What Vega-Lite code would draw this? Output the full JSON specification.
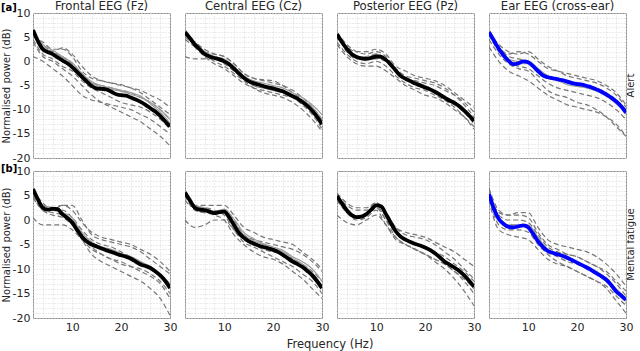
{
"$schema":"https://vega.github.io/schema/vega-lite/v6.json",
"padding":{"left":1,"top":1,"right":1,"bottom":1},
"spacing":1,
"config":{
"font":"DejaVu Sans",
"view":{"stroke":"#8a8a8a","strokeWidth":1},
"axis":{"grid":true,"gridColor":"#d6d6d6","gridDash":[1,2],"gridWidth":1,"domain":false,"ticks":false,"labelFontSize":11,"labelColor":"#262626","labelPadding":2,"labelFlush":false,"labelOverlap":false,"titleFontWeight":"normal","titleColor":"#262626","titleFontSize":10,"titlePadding":1},
"header":{"labelColor":"#262626","titleColor":"#262626","titleFontWeight":"normal"},
"title":{"fontSize":10,"fontWeight":"bold","color":"#000000","anchor":"start","frame":"bounds"}
},
"data":{"values":[
{"r":0,"c":0,"s":0,"f":2,"p":6.5},{"r":0,"c":0,"s":0,"f":3,"p":4.2},{"r":0,"c":0,"s":0,"f":4,"p":2.5},{"r":0,"c":0,"s":0,"f":5,"p":1.9},{"r":0,"c":0,"s":0,"f":6,"p":1.5},{"r":0,"c":0,"s":0,"f":7,"p":0.8},{"r":0,"c":0,"s":0,"f":8,"p":0.2},{"r":0,"c":0,"s":0,"f":9,"p":-0.4},{"r":0,"c":0,"s":0,"f":10,"p":-1.2},{"r":0,"c":0,"s":0,"f":11,"p":-2.2},{"r":0,"c":0,"s":0,"f":12,"p":-3.2},{"r":0,"c":0,"s":0,"f":13,"p":-4.2},{"r":0,"c":0,"s":0,"f":14,"p":-5.1},{"r":0,"c":0,"s":0,"f":15,"p":-5.6},{"r":0,"c":0,"s":0,"f":16,"p":-5.7},{"r":0,"c":0,"s":0,"f":17,"p":-5.8},{"r":0,"c":0,"s":0,"f":18,"p":-6.3},{"r":0,"c":0,"s":0,"f":19,"p":-6.8},{"r":0,"c":0,"s":0,"f":20,"p":-7.0},{"r":0,"c":0,"s":0,"f":21,"p":-7.1},{"r":0,"c":0,"s":0,"f":22,"p":-7.5},{"r":0,"c":0,"s":0,"f":23,"p":-7.9},{"r":0,"c":0,"s":0,"f":24,"p":-8.4},{"r":0,"c":0,"s":0,"f":25,"p":-9.0},{"r":0,"c":0,"s":0,"f":26,"p":-9.7},{"r":0,"c":0,"s":0,"f":27,"p":-10.4},{"r":0,"c":0,"s":0,"f":28,"p":-11.3},{"r":0,"c":0,"s":0,"f":29,"p":-12.4},{"r":0,"c":0,"s":0,"f":30,"p":-13.5},
{"r":0,"c":0,"s":1,"f":2,"p":5},{"r":0,"c":0,"s":1,"f":4,"p":4},{"r":0,"c":0,"s":1,"f":6,"p":2.5},{"r":0,"c":0,"s":1,"f":8,"p":2.5},{"r":0,"c":0,"s":1,"f":10,"p":1},{"r":0,"c":0,"s":1,"f":12,"p":-2},{"r":0,"c":0,"s":1,"f":14,"p":-3.5},{"r":0,"c":0,"s":1,"f":16,"p":-4},{"r":0,"c":0,"s":1,"f":18,"p":-4.5},{"r":0,"c":0,"s":1,"f":20,"p":-4.8},{"r":0,"c":0,"s":1,"f":22,"p":-5.5},{"r":0,"c":0,"s":1,"f":24,"p":-6},{"r":0,"c":0,"s":1,"f":26,"p":-7},{"r":0,"c":0,"s":1,"f":28,"p":-8},{"r":0,"c":0,"s":1,"f":30,"p":-9.5},
{"r":0,"c":0,"s":2,"f":2,"p":1},{"r":0,"c":0,"s":2,"f":4,"p":0},{"r":0,"c":0,"s":2,"f":6,"p":-1.5},{"r":0,"c":0,"s":2,"f":8,"p":-3},{"r":0,"c":0,"s":2,"f":10,"p":-5},{"r":0,"c":0,"s":2,"f":12,"p":-7},{"r":0,"c":0,"s":2,"f":14,"p":-8},{"r":0,"c":0,"s":2,"f":16,"p":-8.5},{"r":0,"c":0,"s":2,"f":18,"p":-9},{"r":0,"c":0,"s":2,"f":20,"p":-9.5},{"r":0,"c":0,"s":2,"f":22,"p":-10},{"r":0,"c":0,"s":2,"f":24,"p":-11},{"r":0,"c":0,"s":2,"f":26,"p":-12},{"r":0,"c":0,"s":2,"f":28,"p":-13.5},{"r":0,"c":0,"s":2,"f":30,"p":-15},
{"r":0,"c":0,"s":3,"f":2,"p":4},{"r":0,"c":0,"s":3,"f":4,"p":1},{"r":0,"c":0,"s":3,"f":6,"p":0},{"r":0,"c":0,"s":3,"f":8,"p":-1.5},{"r":0,"c":0,"s":3,"f":10,"p":-3},{"r":0,"c":0,"s":3,"f":12,"p":-5},{"r":0,"c":0,"s":3,"f":14,"p":-7},{"r":0,"c":0,"s":3,"f":16,"p":-8.5},{"r":0,"c":0,"s":3,"f":18,"p":-9.5},{"r":0,"c":0,"s":3,"f":20,"p":-10.5},{"r":0,"c":0,"s":3,"f":22,"p":-11.5},{"r":0,"c":0,"s":3,"f":24,"p":-12.5},{"r":0,"c":0,"s":3,"f":26,"p":-14},{"r":0,"c":0,"s":3,"f":28,"p":-15.5},{"r":0,"c":0,"s":3,"f":30,"p":-17.5},
{"r":0,"c":0,"s":4,"f":2,"p":6},{"r":0,"c":0,"s":4,"f":4,"p":3},{"r":0,"c":0,"s":4,"f":6,"p":2},{"r":0,"c":0,"s":4,"f":8,"p":1},{"r":0,"c":0,"s":4,"f":10,"p":-0.5},{"r":0,"c":0,"s":4,"f":12,"p":-2.5},{"r":0,"c":0,"s":4,"f":14,"p":-4.5},{"r":0,"c":0,"s":4,"f":16,"p":-5},{"r":0,"c":0,"s":4,"f":18,"p":-5.5},{"r":0,"c":0,"s":4,"f":20,"p":-6},{"r":0,"c":0,"s":4,"f":22,"p":-6.5},{"r":0,"c":0,"s":4,"f":24,"p":-7.5},{"r":0,"c":0,"s":4,"f":26,"p":-8.5},{"r":0,"c":0,"s":4,"f":28,"p":-10},{"r":0,"c":0,"s":4,"f":30,"p":-12},
{"r":0,"c":0,"s":5,"f":2,"p":5.5},{"r":0,"c":0,"s":5,"f":4,"p":3.5},{"r":0,"c":0,"s":5,"f":6,"p":2},{"r":0,"c":0,"s":5,"f":8,"p":2.8},{"r":0,"c":0,"s":5,"f":10,"p":1.5},{"r":0,"c":0,"s":5,"f":12,"p":-1},{"r":0,"c":0,"s":5,"f":14,"p":-3},{"r":0,"c":0,"s":5,"f":16,"p":-4},{"r":0,"c":0,"s":5,"f":18,"p":-4.5},{"r":0,"c":0,"s":5,"f":20,"p":-5},{"r":0,"c":0,"s":5,"f":22,"p":-5.5},{"r":0,"c":0,"s":5,"f":24,"p":-6.5},{"r":0,"c":0,"s":5,"f":26,"p":-8},{"r":0,"c":0,"s":5,"f":28,"p":-9.5},{"r":0,"c":0,"s":5,"f":30,"p":-11},
{"r":0,"c":0,"s":6,"f":2,"p":4.5},{"r":0,"c":0,"s":6,"f":4,"p":1.5},{"r":0,"c":0,"s":6,"f":6,"p":0.5},{"r":0,"c":0,"s":6,"f":8,"p":-1},{"r":0,"c":0,"s":6,"f":10,"p":-2},{"r":0,"c":0,"s":6,"f":12,"p":-4},{"r":0,"c":0,"s":6,"f":14,"p":-5.5},{"r":0,"c":0,"s":6,"f":16,"p":-6.5},{"r":0,"c":0,"s":6,"f":18,"p":-7.5},{"r":0,"c":0,"s":6,"f":20,"p":-8.5},{"r":0,"c":0,"s":6,"f":22,"p":-9},{"r":0,"c":0,"s":6,"f":24,"p":-9.5},{"r":0,"c":0,"s":6,"f":26,"p":-10.5},{"r":0,"c":0,"s":6,"f":28,"p":-12},{"r":0,"c":0,"s":6,"f":30,"p":-14},
{"r":0,"c":0,"s":7,"f":2,"p":6.5},{"r":0,"c":0,"s":7,"f":4,"p":3},{"r":0,"c":0,"s":7,"f":6,"p":1.8},{"r":0,"c":0,"s":7,"f":8,"p":0.8},{"r":0,"c":0,"s":7,"f":10,"p":-0.8},{"r":0,"c":0,"s":7,"f":12,"p":-2.8},{"r":0,"c":0,"s":7,"f":14,"p":-4.5},{"r":0,"c":0,"s":7,"f":16,"p":-5.3},{"r":0,"c":0,"s":7,"f":18,"p":-5.8},{"r":0,"c":0,"s":7,"f":20,"p":-6.2},{"r":0,"c":0,"s":7,"f":22,"p":-6.8},{"r":0,"c":0,"s":7,"f":24,"p":-7.5},{"r":0,"c":0,"s":7,"f":26,"p":-8.5},{"r":0,"c":0,"s":7,"f":28,"p":-10},{"r":0,"c":0,"s":7,"f":30,"p":-12},
{"r":0,"c":0,"s":8,"f":2,"p":6},{"r":0,"c":0,"s":8,"f":4,"p":3.5},{"r":0,"c":0,"s":8,"f":6,"p":2.3},{"r":0,"c":0,"s":8,"f":8,"p":1},{"r":0,"c":0,"s":8,"f":10,"p":-0.3},{"r":0,"c":0,"s":8,"f":12,"p":-2.5},{"r":0,"c":0,"s":8,"f":14,"p":-4.2},{"r":0,"c":0,"s":8,"f":16,"p":-5},{"r":0,"c":0,"s":8,"f":18,"p":-5.5},{"r":0,"c":0,"s":8,"f":20,"p":-6},{"r":0,"c":0,"s":8,"f":22,"p":-6.5},{"r":0,"c":0,"s":8,"f":24,"p":-7.2},{"r":0,"c":0,"s":8,"f":26,"p":-8.8},{"r":0,"c":0,"s":8,"f":28,"p":-10.5},{"r":0,"c":0,"s":8,"f":30,"p":-12.8},
{"r":0,"c":1,"s":0,"f":2,"p":6.0},{"r":0,"c":1,"s":0,"f":3,"p":4.8},{"r":0,"c":1,"s":0,"f":4,"p":3.5},{"r":0,"c":1,"s":0,"f":5,"p":2.5},{"r":0,"c":1,"s":0,"f":6,"p":1.5},{"r":0,"c":1,"s":0,"f":7,"p":1.0},{"r":0,"c":1,"s":0,"f":8,"p":0.7},{"r":0,"c":1,"s":0,"f":9,"p":0.4},{"r":0,"c":1,"s":0,"f":10,"p":0.0},{"r":0,"c":1,"s":0,"f":11,"p":-0.6},{"r":0,"c":1,"s":0,"f":12,"p":-1.5},{"r":0,"c":1,"s":0,"f":13,"p":-2.5},{"r":0,"c":1,"s":0,"f":14,"p":-3.4},{"r":0,"c":1,"s":0,"f":15,"p":-4.1},{"r":0,"c":1,"s":0,"f":16,"p":-4.5},{"r":0,"c":1,"s":0,"f":17,"p":-4.8},{"r":0,"c":1,"s":0,"f":18,"p":-5.1},{"r":0,"c":1,"s":0,"f":19,"p":-5.4},{"r":0,"c":1,"s":0,"f":20,"p":-5.6},{"r":0,"c":1,"s":0,"f":21,"p":-5.9},{"r":0,"c":1,"s":0,"f":22,"p":-6.2},{"r":0,"c":1,"s":0,"f":23,"p":-6.7},{"r":0,"c":1,"s":0,"f":24,"p":-7.2},{"r":0,"c":1,"s":0,"f":25,"p":-7.7},{"r":0,"c":1,"s":0,"f":26,"p":-8.4},{"r":0,"c":1,"s":0,"f":27,"p":-9.2},{"r":0,"c":1,"s":0,"f":28,"p":-10.2},{"r":0,"c":1,"s":0,"f":29,"p":-11.5},{"r":0,"c":1,"s":0,"f":30,"p":-13.0},
{"r":0,"c":1,"s":1,"f":2,"p":5},{"r":0,"c":1,"s":1,"f":4,"p":3.5},{"r":0,"c":1,"s":1,"f":6,"p":2},{"r":0,"c":1,"s":1,"f":8,"p":1.5},{"r":0,"c":1,"s":1,"f":10,"p":1},{"r":0,"c":1,"s":1,"f":12,"p":-0.5},{"r":0,"c":1,"s":1,"f":14,"p":-2.5},{"r":0,"c":1,"s":1,"f":16,"p":-3.5},{"r":0,"c":1,"s":1,"f":18,"p":-4},{"r":0,"c":1,"s":1,"f":20,"p":-4.5},{"r":0,"c":1,"s":1,"f":22,"p":-5},{"r":0,"c":1,"s":1,"f":24,"p":-6},{"r":0,"c":1,"s":1,"f":26,"p":-7.5},{"r":0,"c":1,"s":1,"f":28,"p":-9.5},{"r":0,"c":1,"s":1,"f":30,"p":-12},
{"r":0,"c":1,"s":2,"f":2,"p":1},{"r":0,"c":1,"s":2,"f":4,"p":0.5},{"r":0,"c":1,"s":2,"f":6,"p":0.5},{"r":0,"c":1,"s":2,"f":8,"p":0.5},{"r":0,"c":1,"s":2,"f":10,"p":-0.5},{"r":0,"c":1,"s":2,"f":12,"p":-2},{"r":0,"c":1,"s":2,"f":14,"p":-3.5},{"r":0,"c":1,"s":2,"f":16,"p":-5},{"r":0,"c":1,"s":2,"f":18,"p":-5.5},{"r":0,"c":1,"s":2,"f":20,"p":-6},{"r":0,"c":1,"s":2,"f":22,"p":-6.5},{"r":0,"c":1,"s":2,"f":24,"p":-7.5},{"r":0,"c":1,"s":2,"f":26,"p":-8.5},{"r":0,"c":1,"s":2,"f":28,"p":-10},{"r":0,"c":1,"s":2,"f":30,"p":-12},
{"r":0,"c":1,"s":3,"f":2,"p":6.5},{"r":0,"c":1,"s":3,"f":4,"p":4},{"r":0,"c":1,"s":3,"f":6,"p":2},{"r":0,"c":1,"s":3,"f":8,"p":1},{"r":0,"c":1,"s":3,"f":10,"p":0},{"r":0,"c":1,"s":3,"f":12,"p":-1.5},{"r":0,"c":1,"s":3,"f":14,"p":-3.5},{"r":0,"c":1,"s":3,"f":16,"p":-5},{"r":0,"c":1,"s":3,"f":18,"p":-5.5},{"r":0,"c":1,"s":3,"f":20,"p":-6},{"r":0,"c":1,"s":3,"f":22,"p":-6.5},{"r":0,"c":1,"s":3,"f":24,"p":-7.5},{"r":0,"c":1,"s":3,"f":26,"p":-9},{"r":0,"c":1,"s":3,"f":28,"p":-11},{"r":0,"c":1,"s":3,"f":30,"p":-14},
{"r":0,"c":1,"s":4,"f":2,"p":5.5},{"r":0,"c":1,"s":4,"f":4,"p":4},{"r":0,"c":1,"s":4,"f":6,"p":2.5},{"r":0,"c":1,"s":4,"f":8,"p":1.5},{"r":0,"c":1,"s":4,"f":10,"p":1},{"r":0,"c":1,"s":4,"f":12,"p":-0.5},{"r":0,"c":1,"s":4,"f":14,"p":-2.5},{"r":0,"c":1,"s":4,"f":16,"p":-3.5},{"r":0,"c":1,"s":4,"f":18,"p":-3.8},{"r":0,"c":1,"s":4,"f":20,"p":-4},{"r":0,"c":1,"s":4,"f":22,"p":-5},{"r":0,"c":1,"s":4,"f":24,"p":-6.5},{"r":0,"c":1,"s":4,"f":26,"p":-8},{"r":0,"c":1,"s":4,"f":28,"p":-10},{"r":0,"c":1,"s":4,"f":30,"p":-12.5},
{"r":0,"c":1,"s":5,"f":2,"p":6},{"r":0,"c":1,"s":5,"f":4,"p":3},{"r":0,"c":1,"s":5,"f":6,"p":1},{"r":0,"c":1,"s":5,"f":8,"p":-0.5},{"r":0,"c":1,"s":5,"f":10,"p":-1.5},{"r":0,"c":1,"s":5,"f":12,"p":-3},{"r":0,"c":1,"s":5,"f":14,"p":-4.5},{"r":0,"c":1,"s":5,"f":16,"p":-5.5},{"r":0,"c":1,"s":5,"f":18,"p":-6},{"r":0,"c":1,"s":5,"f":20,"p":-6.5},{"r":0,"c":1,"s":5,"f":22,"p":-7},{"r":0,"c":1,"s":5,"f":24,"p":-7.5},{"r":0,"c":1,"s":5,"f":26,"p":-8.5},{"r":0,"c":1,"s":5,"f":28,"p":-10},{"r":0,"c":1,"s":5,"f":30,"p":-12},
{"r":0,"c":1,"s":6,"f":2,"p":4.5},{"r":0,"c":1,"s":6,"f":4,"p":3},{"r":0,"c":1,"s":6,"f":6,"p":1.5},{"r":0,"c":1,"s":6,"f":8,"p":0},{"r":0,"c":1,"s":6,"f":10,"p":-1},{"r":0,"c":1,"s":6,"f":12,"p":-2.5},{"r":0,"c":1,"s":6,"f":14,"p":-4},{"r":0,"c":1,"s":6,"f":16,"p":-5.5},{"r":0,"c":1,"s":6,"f":18,"p":-6.5},{"r":0,"c":1,"s":6,"f":20,"p":-7},{"r":0,"c":1,"s":6,"f":22,"p":-7.5},{"r":0,"c":1,"s":6,"f":24,"p":-8.5},{"r":0,"c":1,"s":6,"f":26,"p":-10},{"r":0,"c":1,"s":6,"f":28,"p":-12},{"r":0,"c":1,"s":6,"f":30,"p":-14.5},
{"r":0,"c":1,"s":7,"f":2,"p":6.5},{"r":0,"c":1,"s":7,"f":4,"p":4},{"r":0,"c":1,"s":7,"f":6,"p":2},{"r":0,"c":1,"s":7,"f":8,"p":1},{"r":0,"c":1,"s":7,"f":10,"p":0.5},{"r":0,"c":1,"s":7,"f":12,"p":-1},{"r":0,"c":1,"s":7,"f":14,"p":-3},{"r":0,"c":1,"s":7,"f":16,"p":-4},{"r":0,"c":1,"s":7,"f":18,"p":-4.5},{"r":0,"c":1,"s":7,"f":20,"p":-5},{"r":0,"c":1,"s":7,"f":22,"p":-5.5},{"r":0,"c":1,"s":7,"f":24,"p":-6.5},{"r":0,"c":1,"s":7,"f":26,"p":-7.5},{"r":0,"c":1,"s":7,"f":28,"p":-9},{"r":0,"c":1,"s":7,"f":30,"p":-11},
{"r":0,"c":1,"s":8,"f":2,"p":6},{"r":0,"c":1,"s":8,"f":4,"p":3.5},{"r":0,"c":1,"s":8,"f":6,"p":1.8},{"r":0,"c":1,"s":8,"f":8,"p":0.8},{"r":0,"c":1,"s":8,"f":10,"p":0.2},{"r":0,"c":1,"s":8,"f":12,"p":-1.5},{"r":0,"c":1,"s":8,"f":14,"p":-3.5},{"r":0,"c":1,"s":8,"f":16,"p":-4.5},{"r":0,"c":1,"s":8,"f":18,"p":-5},{"r":0,"c":1,"s":8,"f":20,"p":-5.5},{"r":0,"c":1,"s":8,"f":22,"p":-6},{"r":0,"c":1,"s":8,"f":24,"p":-7},{"r":0,"c":1,"s":8,"f":26,"p":-8},{"r":0,"c":1,"s":8,"f":28,"p":-9.5},{"r":0,"c":1,"s":8,"f":30,"p":-12},
{"r":0,"c":2,"s":0,"f":2,"p":5.6},{"r":0,"c":2,"s":0,"f":3,"p":4.0},{"r":0,"c":2,"s":0,"f":4,"p":2.6},{"r":0,"c":2,"s":0,"f":5,"p":1.5},{"r":0,"c":2,"s":0,"f":6,"p":0.9},{"r":0,"c":2,"s":0,"f":7,"p":0.6},{"r":0,"c":2,"s":0,"f":8,"p":0.5},{"r":0,"c":2,"s":0,"f":9,"p":0.7},{"r":0,"c":2,"s":0,"f":10,"p":1.0},{"r":0,"c":2,"s":0,"f":11,"p":0.9},{"r":0,"c":2,"s":0,"f":12,"p":0.3},{"r":0,"c":2,"s":0,"f":13,"p":-0.7},{"r":0,"c":2,"s":0,"f":14,"p":-1.9},{"r":0,"c":2,"s":0,"f":15,"p":-3.0},{"r":0,"c":2,"s":0,"f":16,"p":-3.6},{"r":0,"c":2,"s":0,"f":17,"p":-4.1},{"r":0,"c":2,"s":0,"f":18,"p":-4.6},{"r":0,"c":2,"s":0,"f":19,"p":-5.0},{"r":0,"c":2,"s":0,"f":20,"p":-5.4},{"r":0,"c":2,"s":0,"f":21,"p":-5.8},{"r":0,"c":2,"s":0,"f":22,"p":-6.3},{"r":0,"c":2,"s":0,"f":23,"p":-6.9},{"r":0,"c":2,"s":0,"f":24,"p":-7.5},{"r":0,"c":2,"s":0,"f":25,"p":-8.1},{"r":0,"c":2,"s":0,"f":26,"p":-8.6},{"r":0,"c":2,"s":0,"f":27,"p":-9.3},{"r":0,"c":2,"s":0,"f":28,"p":-10.2},{"r":0,"c":2,"s":0,"f":29,"p":-11.2},{"r":0,"c":2,"s":0,"f":30,"p":-12.3},
{"r":0,"c":2,"s":1,"f":2,"p":5},{"r":0,"c":2,"s":1,"f":4,"p":3},{"r":0,"c":2,"s":1,"f":6,"p":2},{"r":0,"c":2,"s":1,"f":8,"p":2},{"r":0,"c":2,"s":1,"f":10,"p":2.5},{"r":0,"c":2,"s":1,"f":12,"p":1.5},{"r":0,"c":2,"s":1,"f":14,"p":-1},{"r":0,"c":2,"s":1,"f":16,"p":-2},{"r":0,"c":2,"s":1,"f":18,"p":-3},{"r":0,"c":2,"s":1,"f":20,"p":-3.5},{"r":0,"c":2,"s":1,"f":22,"p":-4},{"r":0,"c":2,"s":1,"f":24,"p":-5},{"r":0,"c":2,"s":1,"f":26,"p":-6.5},{"r":0,"c":2,"s":1,"f":28,"p":-8},{"r":0,"c":2,"s":1,"f":30,"p":-9.5},
{"r":0,"c":2,"s":2,"f":2,"p":3.5},{"r":0,"c":2,"s":2,"f":4,"p":1},{"r":0,"c":2,"s":2,"f":6,"p":-0.5},{"r":0,"c":2,"s":2,"f":8,"p":-1},{"r":0,"c":2,"s":2,"f":10,"p":-1},{"r":0,"c":2,"s":2,"f":12,"p":-2},{"r":0,"c":2,"s":2,"f":14,"p":-3.5},{"r":0,"c":2,"s":2,"f":16,"p":-5},{"r":0,"c":2,"s":2,"f":18,"p":-6},{"r":0,"c":2,"s":2,"f":20,"p":-7},{"r":0,"c":2,"s":2,"f":22,"p":-7.5},{"r":0,"c":2,"s":2,"f":24,"p":-8.5},{"r":0,"c":2,"s":2,"f":26,"p":-10},{"r":0,"c":2,"s":2,"f":28,"p":-11.5},{"r":0,"c":2,"s":2,"f":30,"p":-13.5},
{"r":0,"c":2,"s":3,"f":2,"p":6},{"r":0,"c":2,"s":3,"f":4,"p":3},{"r":0,"c":2,"s":3,"f":6,"p":1},{"r":0,"c":2,"s":3,"f":8,"p":0.5},{"r":0,"c":2,"s":3,"f":10,"p":0.5},{"r":0,"c":2,"s":3,"f":12,"p":0},{"r":0,"c":2,"s":3,"f":14,"p":-2},{"r":0,"c":2,"s":3,"f":16,"p":-3.5},{"r":0,"c":2,"s":3,"f":18,"p":-4},{"r":0,"c":2,"s":3,"f":20,"p":-4.5},{"r":0,"c":2,"s":3,"f":22,"p":-5},{"r":0,"c":2,"s":3,"f":24,"p":-6},{"r":0,"c":2,"s":3,"f":26,"p":-7},{"r":0,"c":2,"s":3,"f":28,"p":-8.5},{"r":0,"c":2,"s":3,"f":30,"p":-10.5},
{"r":0,"c":2,"s":4,"f":2,"p":5.5},{"r":0,"c":2,"s":4,"f":4,"p":2},{"r":0,"c":2,"s":4,"f":6,"p":0.5},{"r":0,"c":2,"s":4,"f":8,"p":1},{"r":0,"c":2,"s":4,"f":10,"p":1.5},{"r":0,"c":2,"s":4,"f":12,"p":0.5},{"r":0,"c":2,"s":4,"f":14,"p":-2},{"r":0,"c":2,"s":4,"f":16,"p":-3.5},{"r":0,"c":2,"s":4,"f":18,"p":-4.5},{"r":0,"c":2,"s":4,"f":20,"p":-5.5},{"r":0,"c":2,"s":4,"f":22,"p":-6.5},{"r":0,"c":2,"s":4,"f":24,"p":-8},{"r":0,"c":2,"s":4,"f":26,"p":-9.5},{"r":0,"c":2,"s":4,"f":28,"p":-11.5},{"r":0,"c":2,"s":4,"f":30,"p":-14},
{"r":0,"c":2,"s":5,"f":2,"p":6},{"r":0,"c":2,"s":5,"f":4,"p":3.5},{"r":0,"c":2,"s":5,"f":6,"p":2},{"r":0,"c":2,"s":5,"f":8,"p":1.5},{"r":0,"c":2,"s":5,"f":10,"p":2},{"r":0,"c":2,"s":5,"f":12,"p":1},{"r":0,"c":2,"s":5,"f":14,"p":-1.5},{"r":0,"c":2,"s":5,"f":16,"p":-3},{"r":0,"c":2,"s":5,"f":18,"p":-3.5},{"r":0,"c":2,"s":5,"f":20,"p":-4},{"r":0,"c":2,"s":5,"f":22,"p":-4.5},{"r":0,"c":2,"s":5,"f":24,"p":-5.5},{"r":0,"c":2,"s":5,"f":26,"p":-7},{"r":0,"c":2,"s":5,"f":28,"p":-9},{"r":0,"c":2,"s":5,"f":30,"p":-11.5},
{"r":0,"c":2,"s":6,"f":2,"p":4},{"r":0,"c":2,"s":6,"f":4,"p":1.5},{"r":0,"c":2,"s":6,"f":6,"p":0},{"r":0,"c":2,"s":6,"f":8,"p":-0.5},{"r":0,"c":2,"s":6,"f":10,"p":0},{"r":0,"c":2,"s":6,"f":12,"p":-1},{"r":0,"c":2,"s":6,"f":14,"p":-3},{"r":0,"c":2,"s":6,"f":16,"p":-4.5},{"r":0,"c":2,"s":6,"f":18,"p":-5.5},{"r":0,"c":2,"s":6,"f":20,"p":-6},{"r":0,"c":2,"s":6,"f":22,"p":-7},{"r":0,"c":2,"s":6,"f":24,"p":-8},{"r":0,"c":2,"s":6,"f":26,"p":-9},{"r":0,"c":2,"s":6,"f":28,"p":-10.5},{"r":0,"c":2,"s":6,"f":30,"p":-13},
{"r":0,"c":2,"s":7,"f":2,"p":5.5},{"r":0,"c":2,"s":7,"f":4,"p":2.5},{"r":0,"c":2,"s":7,"f":6,"p":0.8},{"r":0,"c":2,"s":7,"f":8,"p":0.5},{"r":0,"c":2,"s":7,"f":10,"p":1},{"r":0,"c":2,"s":7,"f":12,"p":0.3},{"r":0,"c":2,"s":7,"f":14,"p":-1.8},{"r":0,"c":2,"s":7,"f":16,"p":-3.5},{"r":0,"c":2,"s":7,"f":18,"p":-4.5},{"r":0,"c":2,"s":7,"f":20,"p":-5.5},{"r":0,"c":2,"s":7,"f":22,"p":-6.5},{"r":0,"c":2,"s":7,"f":24,"p":-7.5},{"r":0,"c":2,"s":7,"f":26,"p":-8.5},{"r":0,"c":2,"s":7,"f":28,"p":-10},{"r":0,"c":2,"s":7,"f":30,"p":-12.5},
{"r":0,"c":2,"s":8,"f":2,"p":6},{"r":0,"c":2,"s":8,"f":4,"p":3},{"r":0,"c":2,"s":8,"f":6,"p":1.2},{"r":0,"c":2,"s":8,"f":8,"p":0.8},{"r":0,"c":2,"s":8,"f":10,"p":1.5},{"r":0,"c":2,"s":8,"f":12,"p":0.5},{"r":0,"c":2,"s":8,"f":14,"p":-2},{"r":0,"c":2,"s":8,"f":16,"p":-3.3},{"r":0,"c":2,"s":8,"f":18,"p":-4.2},{"r":0,"c":2,"s":8,"f":20,"p":-5},{"r":0,"c":2,"s":8,"f":22,"p":-6},{"r":0,"c":2,"s":8,"f":24,"p":-7.2},{"r":0,"c":2,"s":8,"f":26,"p":-8.5},{"r":0,"c":2,"s":8,"f":28,"p":-10.3},{"r":0,"c":2,"s":8,"f":30,"p":-12},
{"r":0,"c":3,"s":0,"f":2,"p":6.0},{"r":0,"c":3,"s":0,"f":3,"p":4.3},{"r":0,"c":3,"s":0,"f":4,"p":2.6},{"r":0,"c":3,"s":0,"f":5,"p":1.2},{"r":0,"c":3,"s":0,"f":6,"p":0.1},{"r":0,"c":3,"s":0,"f":7,"p":-0.6},{"r":0,"c":3,"s":0,"f":8,"p":-0.4},{"r":0,"c":3,"s":0,"f":9,"p":0.0},{"r":0,"c":3,"s":0,"f":10,"p":-0.2},{"r":0,"c":3,"s":0,"f":11,"p":-1.0},{"r":0,"c":3,"s":0,"f":12,"p":-2.0},{"r":0,"c":3,"s":0,"f":13,"p":-2.9},{"r":0,"c":3,"s":0,"f":14,"p":-3.3},{"r":0,"c":3,"s":0,"f":15,"p":-3.5},{"r":0,"c":3,"s":0,"f":16,"p":-3.7},{"r":0,"c":3,"s":0,"f":17,"p":-3.9},{"r":0,"c":3,"s":0,"f":18,"p":-4.2},{"r":0,"c":3,"s":0,"f":19,"p":-4.5},{"r":0,"c":3,"s":0,"f":20,"p":-4.7},{"r":0,"c":3,"s":0,"f":21,"p":-4.8},{"r":0,"c":3,"s":0,"f":22,"p":-5.1},{"r":0,"c":3,"s":0,"f":23,"p":-5.4},{"r":0,"c":3,"s":0,"f":24,"p":-5.8},{"r":0,"c":3,"s":0,"f":25,"p":-6.3},{"r":0,"c":3,"s":0,"f":26,"p":-6.9},{"r":0,"c":3,"s":0,"f":27,"p":-7.5},{"r":0,"c":3,"s":0,"f":28,"p":-8.3},{"r":0,"c":3,"s":0,"f":29,"p":-9.3},{"r":0,"c":3,"s":0,"f":30,"p":-10.6},
{"r":0,"c":3,"s":1,"f":2,"p":6.5},{"r":0,"c":3,"s":1,"f":4,"p":3},{"r":0,"c":3,"s":1,"f":6,"p":1.5},{"r":0,"c":3,"s":1,"f":8,"p":2},{"r":0,"c":3,"s":1,"f":10,"p":1.5},{"r":0,"c":3,"s":1,"f":12,"p":0},{"r":0,"c":3,"s":1,"f":14,"p":-1.5},{"r":0,"c":3,"s":1,"f":16,"p":-2},{"r":0,"c":3,"s":1,"f":18,"p":-2.5},{"r":0,"c":3,"s":1,"f":20,"p":-3},{"r":0,"c":3,"s":1,"f":22,"p":-3.5},{"r":0,"c":3,"s":1,"f":24,"p":-4},{"r":0,"c":3,"s":1,"f":26,"p":-5},{"r":0,"c":3,"s":1,"f":28,"p":-6.5},{"r":0,"c":3,"s":1,"f":30,"p":-9},
{"r":0,"c":3,"s":2,"f":2,"p":3},{"r":0,"c":3,"s":2,"f":4,"p":0},{"r":0,"c":3,"s":2,"f":6,"p":-2},{"r":0,"c":3,"s":2,"f":8,"p":-3},{"r":0,"c":3,"s":2,"f":10,"p":-4},{"r":0,"c":3,"s":2,"f":12,"p":-5.5},{"r":0,"c":3,"s":2,"f":14,"p":-7},{"r":0,"c":3,"s":2,"f":16,"p":-8},{"r":0,"c":3,"s":2,"f":18,"p":-9},{"r":0,"c":3,"s":2,"f":20,"p":-9.5},{"r":0,"c":3,"s":2,"f":22,"p":-10},{"r":0,"c":3,"s":2,"f":24,"p":-10.5},{"r":0,"c":3,"s":2,"f":26,"p":-11.5},{"r":0,"c":3,"s":2,"f":28,"p":-13},{"r":0,"c":3,"s":2,"f":30,"p":-15.5},
{"r":0,"c":3,"s":3,"f":2,"p":5.5},{"r":0,"c":3,"s":3,"f":4,"p":2},{"r":0,"c":3,"s":3,"f":6,"p":0},{"r":0,"c":3,"s":3,"f":8,"p":-1},{"r":0,"c":3,"s":3,"f":10,"p":-1.5},{"r":0,"c":3,"s":3,"f":12,"p":-3},{"r":0,"c":3,"s":3,"f":14,"p":-4.5},{"r":0,"c":3,"s":3,"f":16,"p":-5.5},{"r":0,"c":3,"s":3,"f":18,"p":-6},{"r":0,"c":3,"s":3,"f":20,"p":-6.5},{"r":0,"c":3,"s":3,"f":22,"p":-7},{"r":0,"c":3,"s":3,"f":24,"p":-7.5},{"r":0,"c":3,"s":3,"f":26,"p":-8.5},{"r":0,"c":3,"s":3,"f":28,"p":-10},{"r":0,"c":3,"s":3,"f":30,"p":-12},
{"r":0,"c":3,"s":4,"f":2,"p":6},{"r":0,"c":3,"s":4,"f":4,"p":3.5},{"r":0,"c":3,"s":4,"f":6,"p":2},{"r":0,"c":3,"s":4,"f":8,"p":1.5},{"r":0,"c":3,"s":4,"f":10,"p":2},{"r":0,"c":3,"s":4,"f":12,"p":0.5},{"r":0,"c":3,"s":4,"f":14,"p":-1},{"r":0,"c":3,"s":4,"f":16,"p":-2},{"r":0,"c":3,"s":4,"f":18,"p":-3},{"r":0,"c":3,"s":4,"f":20,"p":-3.5},{"r":0,"c":3,"s":4,"f":22,"p":-4},{"r":0,"c":3,"s":4,"f":24,"p":-4.5},{"r":0,"c":3,"s":4,"f":26,"p":-5.5},{"r":0,"c":3,"s":4,"f":28,"p":-7},{"r":0,"c":3,"s":4,"f":30,"p":-9.5},
{"r":0,"c":3,"s":5,"f":2,"p":4.5},{"r":0,"c":3,"s":5,"f":4,"p":1.5},{"r":0,"c":3,"s":5,"f":6,"p":-0.5},{"r":0,"c":3,"s":5,"f":8,"p":-1.5},{"r":0,"c":3,"s":5,"f":10,"p":-2},{"r":0,"c":3,"s":5,"f":12,"p":-4},{"r":0,"c":3,"s":5,"f":14,"p":-6},{"r":0,"c":3,"s":5,"f":16,"p":-7},{"r":0,"c":3,"s":5,"f":18,"p":-7.5},{"r":0,"c":3,"s":5,"f":20,"p":-8.5},{"r":0,"c":3,"s":5,"f":22,"p":-9},{"r":0,"c":3,"s":5,"f":24,"p":-10},{"r":0,"c":3,"s":5,"f":26,"p":-11.5},{"r":0,"c":3,"s":5,"f":28,"p":-13.5},{"r":0,"c":3,"s":5,"f":30,"p":-15.5},
{"r":0,"c":3,"s":6,"f":2,"p":6},{"r":0,"c":3,"s":6,"f":4,"p":3},{"r":0,"c":3,"s":6,"f":6,"p":1},{"r":0,"c":3,"s":6,"f":8,"p":0.5},{"r":0,"c":3,"s":6,"f":10,"p":0},{"r":0,"c":3,"s":6,"f":12,"p":-1.5},{"r":0,"c":3,"s":6,"f":14,"p":-3},{"r":0,"c":3,"s":6,"f":16,"p":-3.5},{"r":0,"c":3,"s":6,"f":18,"p":-4},{"r":0,"c":3,"s":6,"f":20,"p":-4.5},{"r":0,"c":3,"s":6,"f":22,"p":-5},{"r":0,"c":3,"s":6,"f":24,"p":-5.5},{"r":0,"c":3,"s":6,"f":26,"p":-6.5},{"r":0,"c":3,"s":6,"f":28,"p":-8},{"r":0,"c":3,"s":6,"f":30,"p":-10},
{"r":0,"c":3,"s":7,"f":2,"p":6.5},{"r":0,"c":3,"s":7,"f":4,"p":3},{"r":0,"c":3,"s":7,"f":6,"p":0.5},{"r":0,"c":3,"s":7,"f":8,"p":0},{"r":0,"c":3,"s":7,"f":10,"p":0},{"r":0,"c":3,"s":7,"f":12,"p":-1.5},{"r":0,"c":3,"s":7,"f":14,"p":-3},{"r":0,"c":3,"s":7,"f":16,"p":-3.8},{"r":0,"c":3,"s":7,"f":18,"p":-4.5},{"r":0,"c":3,"s":7,"f":20,"p":-5},{"r":0,"c":3,"s":7,"f":22,"p":-5.5},{"r":0,"c":3,"s":7,"f":24,"p":-6},{"r":0,"c":3,"s":7,"f":26,"p":-7},{"r":0,"c":3,"s":7,"f":28,"p":-8.5},{"r":0,"c":3,"s":7,"f":30,"p":-11},
{"r":0,"c":3,"s":8,"f":2,"p":6},{"r":0,"c":3,"s":8,"f":4,"p":2.5},{"r":0,"c":3,"s":8,"f":6,"p":0.2},{"r":0,"c":3,"s":8,"f":8,"p":-0.5},{"r":0,"c":3,"s":8,"f":10,"p":-0.5},{"r":0,"c":3,"s":8,"f":12,"p":-2},{"r":0,"c":3,"s":8,"f":14,"p":-3.5},{"r":0,"c":3,"s":8,"f":16,"p":-4},{"r":0,"c":3,"s":8,"f":18,"p":-4.8},{"r":0,"c":3,"s":8,"f":20,"p":-5.2},{"r":0,"c":3,"s":8,"f":22,"p":-5.5},{"r":0,"c":3,"s":8,"f":24,"p":-6.2},{"r":0,"c":3,"s":8,"f":26,"p":-7.2},{"r":0,"c":3,"s":8,"f":28,"p":-8.8},{"r":0,"c":3,"s":8,"f":30,"p":-10.5},
{"r":1,"c":0,"s":0,"f":2,"p":6.3},{"r":1,"c":0,"s":0,"f":3,"p":4.2},{"r":1,"c":0,"s":0,"f":4,"p":2.5},{"r":1,"c":0,"s":0,"f":5,"p":2.1},{"r":1,"c":0,"s":0,"f":6,"p":2.3},{"r":1,"c":0,"s":0,"f":7,"p":2.2},{"r":1,"c":0,"s":0,"f":8,"p":1.2},{"r":1,"c":0,"s":0,"f":9,"p":0.4},{"r":1,"c":0,"s":0,"f":10,"p":-0.5},{"r":1,"c":0,"s":0,"f":11,"p":-2.0},{"r":1,"c":0,"s":0,"f":12,"p":-3.4},{"r":1,"c":0,"s":0,"f":13,"p":-4.4},{"r":1,"c":0,"s":0,"f":14,"p":-5.0},{"r":1,"c":0,"s":0,"f":15,"p":-5.4},{"r":1,"c":0,"s":0,"f":16,"p":-5.8},{"r":1,"c":0,"s":0,"f":17,"p":-6.2},{"r":1,"c":0,"s":0,"f":18,"p":-6.5},{"r":1,"c":0,"s":0,"f":19,"p":-6.9},{"r":1,"c":0,"s":0,"f":20,"p":-7.2},{"r":1,"c":0,"s":0,"f":21,"p":-7.5},{"r":1,"c":0,"s":0,"f":22,"p":-7.9},{"r":1,"c":0,"s":0,"f":23,"p":-8.5},{"r":1,"c":0,"s":0,"f":24,"p":-9.1},{"r":1,"c":0,"s":0,"f":25,"p":-9.4},{"r":1,"c":0,"s":0,"f":26,"p":-9.8},{"r":1,"c":0,"s":0,"f":27,"p":-10.5},{"r":1,"c":0,"s":0,"f":28,"p":-11.3},{"r":1,"c":0,"s":0,"f":29,"p":-12.4},{"r":1,"c":0,"s":0,"f":30,"p":-13.9},
{"r":1,"c":0,"s":1,"f":2,"p":6},{"r":1,"c":0,"s":1,"f":4,"p":3.5},{"r":1,"c":0,"s":1,"f":6,"p":2},{"r":1,"c":0,"s":1,"f":8,"p":3},{"r":1,"c":0,"s":1,"f":10,"p":3},{"r":1,"c":0,"s":1,"f":12,"p":0},{"r":1,"c":0,"s":1,"f":14,"p":-3},{"r":1,"c":0,"s":1,"f":16,"p":-4},{"r":1,"c":0,"s":1,"f":18,"p":-4.5},{"r":1,"c":0,"s":1,"f":20,"p":-5},{"r":1,"c":0,"s":1,"f":22,"p":-5.5},{"r":1,"c":0,"s":1,"f":24,"p":-6.5},{"r":1,"c":0,"s":1,"f":26,"p":-8},{"r":1,"c":0,"s":1,"f":28,"p":-9.5},{"r":1,"c":0,"s":1,"f":30,"p":-11},
{"r":1,"c":0,"s":2,"f":2,"p":0.5},{"r":1,"c":0,"s":2,"f":4,"p":-1},{"r":1,"c":0,"s":2,"f":6,"p":-1},{"r":1,"c":0,"s":2,"f":8,"p":-1},{"r":1,"c":0,"s":2,"f":10,"p":-2},{"r":1,"c":0,"s":2,"f":12,"p":-4},{"r":1,"c":0,"s":2,"f":14,"p":-6},{"r":1,"c":0,"s":2,"f":16,"p":-7},{"r":1,"c":0,"s":2,"f":18,"p":-8},{"r":1,"c":0,"s":2,"f":20,"p":-9},{"r":1,"c":0,"s":2,"f":22,"p":-9.5},{"r":1,"c":0,"s":2,"f":24,"p":-10},{"r":1,"c":0,"s":2,"f":26,"p":-11},{"r":1,"c":0,"s":2,"f":28,"p":-12.5},{"r":1,"c":0,"s":2,"f":30,"p":-15},
{"r":1,"c":0,"s":3,"f":2,"p":5},{"r":1,"c":0,"s":3,"f":4,"p":2},{"r":1,"c":0,"s":3,"f":6,"p":1.5},{"r":1,"c":0,"s":3,"f":8,"p":1},{"r":1,"c":0,"s":3,"f":10,"p":-1},{"r":1,"c":0,"s":3,"f":12,"p":-4},{"r":1,"c":0,"s":3,"f":14,"p":-7},{"r":1,"c":0,"s":3,"f":16,"p":-8.5},{"r":1,"c":0,"s":3,"f":18,"p":-9.5},{"r":1,"c":0,"s":3,"f":20,"p":-10.5},{"r":1,"c":0,"s":3,"f":22,"p":-11.5},{"r":1,"c":0,"s":3,"f":24,"p":-12.5},{"r":1,"c":0,"s":3,"f":26,"p":-14},{"r":1,"c":0,"s":3,"f":28,"p":-16},{"r":1,"c":0,"s":3,"f":30,"p":-19.5},
{"r":1,"c":0,"s":4,"f":2,"p":6.5},{"r":1,"c":0,"s":4,"f":4,"p":3},{"r":1,"c":0,"s":4,"f":6,"p":2},{"r":1,"c":0,"s":4,"f":8,"p":2},{"r":1,"c":0,"s":4,"f":10,"p":0.5},{"r":1,"c":0,"s":4,"f":12,"p":-2},{"r":1,"c":0,"s":4,"f":14,"p":-4},{"r":1,"c":0,"s":4,"f":16,"p":-5},{"r":1,"c":0,"s":4,"f":18,"p":-5.5},{"r":1,"c":0,"s":4,"f":20,"p":-6.5},{"r":1,"c":0,"s":4,"f":22,"p":-7.5},{"r":1,"c":0,"s":4,"f":24,"p":-8.5},{"r":1,"c":0,"s":4,"f":26,"p":-10},{"r":1,"c":0,"s":4,"f":28,"p":-11.5},{"r":1,"c":0,"s":4,"f":30,"p":-14},
{"r":1,"c":0,"s":5,"f":2,"p":5.5},{"r":1,"c":0,"s":5,"f":4,"p":3},{"r":1,"c":0,"s":5,"f":6,"p":2.5},{"r":1,"c":0,"s":5,"f":8,"p":3},{"r":1,"c":0,"s":5,"f":10,"p":2},{"r":1,"c":0,"s":5,"f":12,"p":-0.5},{"r":1,"c":0,"s":5,"f":14,"p":-2.5},{"r":1,"c":0,"s":5,"f":16,"p":-3.5},{"r":1,"c":0,"s":5,"f":18,"p":-4},{"r":1,"c":0,"s":5,"f":20,"p":-4.5},{"r":1,"c":0,"s":5,"f":22,"p":-5},{"r":1,"c":0,"s":5,"f":24,"p":-6},{"r":1,"c":0,"s":5,"f":26,"p":-7},{"r":1,"c":0,"s":5,"f":28,"p":-8.5},{"r":1,"c":0,"s":5,"f":30,"p":-10.5},
{"r":1,"c":0,"s":6,"f":2,"p":4.5},{"r":1,"c":0,"s":6,"f":4,"p":2},{"r":1,"c":0,"s":6,"f":6,"p":1},{"r":1,"c":0,"s":6,"f":8,"p":0.5},{"r":1,"c":0,"s":6,"f":10,"p":-1},{"r":1,"c":0,"s":6,"f":12,"p":-3.5},{"r":1,"c":0,"s":6,"f":14,"p":-5.5},{"r":1,"c":0,"s":6,"f":16,"p":-7},{"r":1,"c":0,"s":6,"f":18,"p":-8},{"r":1,"c":0,"s":6,"f":20,"p":-8.5},{"r":1,"c":0,"s":6,"f":22,"p":-9.5},{"r":1,"c":0,"s":6,"f":24,"p":-10.5},{"r":1,"c":0,"s":6,"f":26,"p":-11.5},{"r":1,"c":0,"s":6,"f":28,"p":-13},{"r":1,"c":0,"s":6,"f":30,"p":-16},
{"r":1,"c":0,"s":7,"f":2,"p":6.5},{"r":1,"c":0,"s":7,"f":4,"p":3},{"r":1,"c":0,"s":7,"f":6,"p":2.5},{"r":1,"c":0,"s":7,"f":8,"p":1.5},{"r":1,"c":0,"s":7,"f":10,"p":0},{"r":1,"c":0,"s":7,"f":12,"p":-2.5},{"r":1,"c":0,"s":7,"f":14,"p":-4.5},{"r":1,"c":0,"s":7,"f":16,"p":-5.5},{"r":1,"c":0,"s":7,"f":18,"p":-6.5},{"r":1,"c":0,"s":7,"f":20,"p":-7},{"r":1,"c":0,"s":7,"f":22,"p":-7.5},{"r":1,"c":0,"s":7,"f":24,"p":-8.5},{"r":1,"c":0,"s":7,"f":26,"p":-9.5},{"r":1,"c":0,"s":7,"f":28,"p":-11},{"r":1,"c":0,"s":7,"f":30,"p":-13},
{"r":1,"c":0,"s":8,"f":2,"p":6},{"r":1,"c":0,"s":8,"f":4,"p":2.5},{"r":1,"c":0,"s":8,"f":6,"p":2},{"r":1,"c":0,"s":8,"f":8,"p":1.5},{"r":1,"c":0,"s":8,"f":10,"p":0.5},{"r":1,"c":0,"s":8,"f":12,"p":-3},{"r":1,"c":0,"s":8,"f":14,"p":-4.8},{"r":1,"c":0,"s":8,"f":16,"p":-5.5},{"r":1,"c":0,"s":8,"f":18,"p":-6},{"r":1,"c":0,"s":8,"f":20,"p":-6.8},{"r":1,"c":0,"s":8,"f":22,"p":-7.5},{"r":1,"c":0,"s":8,"f":24,"p":-8.8},{"r":1,"c":0,"s":8,"f":26,"p":-10},{"r":1,"c":0,"s":8,"f":28,"p":-11.5},{"r":1,"c":0,"s":8,"f":30,"p":-14},
{"r":1,"c":1,"s":0,"f":2,"p":5.6},{"r":1,"c":1,"s":0,"f":3,"p":4.0},{"r":1,"c":1,"s":0,"f":4,"p":2.5},{"r":1,"c":1,"s":0,"f":5,"p":2.1},{"r":1,"c":1,"s":0,"f":6,"p":2.0},{"r":1,"c":1,"s":0,"f":7,"p":1.7},{"r":1,"c":1,"s":0,"f":8,"p":1.4},{"r":1,"c":1,"s":0,"f":9,"p":1.6},{"r":1,"c":1,"s":0,"f":10,"p":1.7},{"r":1,"c":1,"s":0,"f":11,"p":0.6},{"r":1,"c":1,"s":0,"f":12,"p":-1.0},{"r":1,"c":1,"s":0,"f":13,"p":-2.6},{"r":1,"c":1,"s":0,"f":14,"p":-3.6},{"r":1,"c":1,"s":0,"f":15,"p":-4.3},{"r":1,"c":1,"s":0,"f":16,"p":-4.8},{"r":1,"c":1,"s":0,"f":17,"p":-5.2},{"r":1,"c":1,"s":0,"f":18,"p":-5.5},{"r":1,"c":1,"s":0,"f":19,"p":-5.8},{"r":1,"c":1,"s":0,"f":20,"p":-6.1},{"r":1,"c":1,"s":0,"f":21,"p":-6.5},{"r":1,"c":1,"s":0,"f":22,"p":-7.1},{"r":1,"c":1,"s":0,"f":23,"p":-7.8},{"r":1,"c":1,"s":0,"f":24,"p":-8.5},{"r":1,"c":1,"s":0,"f":25,"p":-9.0},{"r":1,"c":1,"s":0,"f":26,"p":-9.6},{"r":1,"c":1,"s":0,"f":27,"p":-10.4},{"r":1,"c":1,"s":0,"f":28,"p":-11.3},{"r":1,"c":1,"s":0,"f":29,"p":-12.5},{"r":1,"c":1,"s":0,"f":30,"p":-13.9},
{"r":1,"c":1,"s":1,"f":2,"p":6},{"r":1,"c":1,"s":1,"f":4,"p":3},{"r":1,"c":1,"s":1,"f":6,"p":3},{"r":1,"c":1,"s":1,"f":8,"p":3},{"r":1,"c":1,"s":1,"f":10,"p":3},{"r":1,"c":1,"s":1,"f":12,"p":1},{"r":1,"c":1,"s":1,"f":14,"p":-1.5},{"r":1,"c":1,"s":1,"f":16,"p":-2.5},{"r":1,"c":1,"s":1,"f":18,"p":-3.5},{"r":1,"c":1,"s":1,"f":20,"p":-4},{"r":1,"c":1,"s":1,"f":22,"p":-4.5},{"r":1,"c":1,"s":1,"f":24,"p":-5},{"r":1,"c":1,"s":1,"f":26,"p":-6.5},{"r":1,"c":1,"s":1,"f":28,"p":-8},{"r":1,"c":1,"s":1,"f":30,"p":-10},
{"r":1,"c":1,"s":2,"f":2,"p":0},{"r":1,"c":1,"s":2,"f":4,"p":-1.5},{"r":1,"c":1,"s":2,"f":6,"p":-1},{"r":1,"c":1,"s":2,"f":8,"p":0},{"r":1,"c":1,"s":2,"f":10,"p":0},{"r":1,"c":1,"s":2,"f":12,"p":-2},{"r":1,"c":1,"s":2,"f":14,"p":-4},{"r":1,"c":1,"s":2,"f":16,"p":-5},{"r":1,"c":1,"s":2,"f":18,"p":-6},{"r":1,"c":1,"s":2,"f":20,"p":-6.5},{"r":1,"c":1,"s":2,"f":22,"p":-7},{"r":1,"c":1,"s":2,"f":24,"p":-8},{"r":1,"c":1,"s":2,"f":26,"p":-9},{"r":1,"c":1,"s":2,"f":28,"p":-10.5},{"r":1,"c":1,"s":2,"f":30,"p":-12.5},
{"r":1,"c":1,"s":3,"f":2,"p":5},{"r":1,"c":1,"s":3,"f":4,"p":2},{"r":1,"c":1,"s":3,"f":6,"p":1.5},{"r":1,"c":1,"s":3,"f":8,"p":1},{"r":1,"c":1,"s":3,"f":10,"p":0},{"r":1,"c":1,"s":3,"f":12,"p":-3},{"r":1,"c":1,"s":3,"f":14,"p":-5},{"r":1,"c":1,"s":3,"f":16,"p":-6.5},{"r":1,"c":1,"s":3,"f":18,"p":-7.5},{"r":1,"c":1,"s":3,"f":20,"p":-8},{"r":1,"c":1,"s":3,"f":22,"p":-9},{"r":1,"c":1,"s":3,"f":24,"p":-10.5},{"r":1,"c":1,"s":3,"f":26,"p":-12},{"r":1,"c":1,"s":3,"f":28,"p":-14},{"r":1,"c":1,"s":3,"f":30,"p":-16},
{"r":1,"c":1,"s":4,"f":2,"p":6},{"r":1,"c":1,"s":4,"f":4,"p":3},{"r":1,"c":1,"s":4,"f":6,"p":2},{"r":1,"c":1,"s":4,"f":8,"p":1.5},{"r":1,"c":1,"s":4,"f":10,"p":2},{"r":1,"c":1,"s":4,"f":12,"p":0},{"r":1,"c":1,"s":4,"f":14,"p":-3},{"r":1,"c":1,"s":4,"f":16,"p":-4},{"r":1,"c":1,"s":4,"f":18,"p":-4.5},{"r":1,"c":1,"s":4,"f":20,"p":-5},{"r":1,"c":1,"s":4,"f":22,"p":-5.5},{"r":1,"c":1,"s":4,"f":24,"p":-6},{"r":1,"c":1,"s":4,"f":26,"p":-7},{"r":1,"c":1,"s":4,"f":28,"p":-8.5},{"r":1,"c":1,"s":4,"f":30,"p":-10.5},
{"r":1,"c":1,"s":5,"f":2,"p":5.5},{"r":1,"c":1,"s":5,"f":4,"p":2.5},{"r":1,"c":1,"s":5,"f":6,"p":1.5},{"r":1,"c":1,"s":5,"f":8,"p":1.5},{"r":1,"c":1,"s":5,"f":10,"p":1.5},{"r":1,"c":1,"s":5,"f":12,"p":-1},{"r":1,"c":1,"s":5,"f":14,"p":-3.5},{"r":1,"c":1,"s":5,"f":16,"p":-5},{"r":1,"c":1,"s":5,"f":18,"p":-5.5},{"r":1,"c":1,"s":5,"f":20,"p":-6},{"r":1,"c":1,"s":5,"f":22,"p":-7},{"r":1,"c":1,"s":5,"f":24,"p":-8},{"r":1,"c":1,"s":5,"f":26,"p":-9.5},{"r":1,"c":1,"s":5,"f":28,"p":-11},{"r":1,"c":1,"s":5,"f":30,"p":-13.5},
{"r":1,"c":1,"s":6,"f":2,"p":4},{"r":1,"c":1,"s":6,"f":4,"p":2.5},{"r":1,"c":1,"s":6,"f":6,"p":2.5},{"r":1,"c":1,"s":6,"f":8,"p":2},{"r":1,"c":1,"s":6,"f":10,"p":1},{"r":1,"c":1,"s":6,"f":12,"p":-2},{"r":1,"c":1,"s":6,"f":14,"p":-4.5},{"r":1,"c":1,"s":6,"f":16,"p":-5.5},{"r":1,"c":1,"s":6,"f":18,"p":-6.5},{"r":1,"c":1,"s":6,"f":20,"p":-7.5},{"r":1,"c":1,"s":6,"f":22,"p":-8.5},{"r":1,"c":1,"s":6,"f":24,"p":-9.5},{"r":1,"c":1,"s":6,"f":26,"p":-11},{"r":1,"c":1,"s":6,"f":28,"p":-12.5},{"r":1,"c":1,"s":6,"f":30,"p":-15},
{"r":1,"c":1,"s":7,"f":2,"p":6},{"r":1,"c":1,"s":7,"f":4,"p":3},{"r":1,"c":1,"s":7,"f":6,"p":2.5},{"r":1,"c":1,"s":7,"f":8,"p":1.8},{"r":1,"c":1,"s":7,"f":10,"p":2.2},{"r":1,"c":1,"s":7,"f":12,"p":0.2},{"r":1,"c":1,"s":7,"f":14,"p":-2.5},{"r":1,"c":1,"s":7,"f":16,"p":-3.8},{"r":1,"c":1,"s":7,"f":18,"p":-4.8},{"r":1,"c":1,"s":7,"f":20,"p":-5.5},{"r":1,"c":1,"s":7,"f":22,"p":-6.2},{"r":1,"c":1,"s":7,"f":24,"p":-7.5},{"r":1,"c":1,"s":7,"f":26,"p":-8.5},{"r":1,"c":1,"s":7,"f":28,"p":-10},{"r":1,"c":1,"s":7,"f":30,"p":-12.5},
{"r":1,"c":1,"s":8,"f":2,"p":5.5},{"r":1,"c":1,"s":8,"f":4,"p":2.8},{"r":1,"c":1,"s":8,"f":6,"p":2.2},{"r":1,"c":1,"s":8,"f":8,"p":1.5},{"r":1,"c":1,"s":8,"f":10,"p":1.5},{"r":1,"c":1,"s":8,"f":12,"p":-0.5},{"r":1,"c":1,"s":8,"f":14,"p":-3},{"r":1,"c":1,"s":8,"f":16,"p":-4.2},{"r":1,"c":1,"s":8,"f":18,"p":-5},{"r":1,"c":1,"s":8,"f":20,"p":-5.8},{"r":1,"c":1,"s":8,"f":22,"p":-6.5},{"r":1,"c":1,"s":8,"f":24,"p":-7.8},{"r":1,"c":1,"s":8,"f":26,"p":-9},{"r":1,"c":1,"s":8,"f":28,"p":-10.8},{"r":1,"c":1,"s":8,"f":30,"p":-13.5},
{"r":1,"c":2,"s":0,"f":2,"p":4.9},{"r":1,"c":2,"s":0,"f":3,"p":3.4},{"r":1,"c":2,"s":0,"f":4,"p":2.0},{"r":1,"c":2,"s":0,"f":5,"p":1.0},{"r":1,"c":2,"s":0,"f":6,"p":0.6},{"r":1,"c":2,"s":0,"f":7,"p":0.7},{"r":1,"c":2,"s":0,"f":8,"p":1.2},{"r":1,"c":2,"s":0,"f":9,"p":2.1},{"r":1,"c":2,"s":0,"f":10,"p":3.0},{"r":1,"c":2,"s":0,"f":11,"p":2.8},{"r":1,"c":2,"s":0,"f":12,"p":1.2},{"r":1,"c":2,"s":0,"f":13,"p":-0.6},{"r":1,"c":2,"s":0,"f":14,"p":-2.3},{"r":1,"c":2,"s":0,"f":15,"p":-3.4},{"r":1,"c":2,"s":0,"f":16,"p":-4.0},{"r":1,"c":2,"s":0,"f":17,"p":-4.5},{"r":1,"c":2,"s":0,"f":18,"p":-4.9},{"r":1,"c":2,"s":0,"f":19,"p":-5.2},{"r":1,"c":2,"s":0,"f":20,"p":-5.6},{"r":1,"c":2,"s":0,"f":21,"p":-6.1},{"r":1,"c":2,"s":0,"f":22,"p":-6.8},{"r":1,"c":2,"s":0,"f":23,"p":-7.6},{"r":1,"c":2,"s":0,"f":24,"p":-8.5},{"r":1,"c":2,"s":0,"f":25,"p":-9.1},{"r":1,"c":2,"s":0,"f":26,"p":-9.7},{"r":1,"c":2,"s":0,"f":27,"p":-10.4},{"r":1,"c":2,"s":0,"f":28,"p":-11.3},{"r":1,"c":2,"s":0,"f":29,"p":-12.4},{"r":1,"c":2,"s":0,"f":30,"p":-13.6},
{"r":1,"c":2,"s":1,"f":2,"p":5.5},{"r":1,"c":2,"s":1,"f":4,"p":3.5},{"r":1,"c":2,"s":1,"f":6,"p":2.5},{"r":1,"c":2,"s":1,"f":8,"p":2.5},{"r":1,"c":2,"s":1,"f":10,"p":3.5},{"r":1,"c":2,"s":1,"f":12,"p":1.5},{"r":1,"c":2,"s":1,"f":14,"p":-1.5},{"r":1,"c":2,"s":1,"f":16,"p":-2.5},{"r":1,"c":2,"s":1,"f":18,"p":-3},{"r":1,"c":2,"s":1,"f":20,"p":-3.5},{"r":1,"c":2,"s":1,"f":22,"p":-4.5},{"r":1,"c":2,"s":1,"f":24,"p":-5.5},{"r":1,"c":2,"s":1,"f":26,"p":-6.5},{"r":1,"c":2,"s":1,"f":28,"p":-8},{"r":1,"c":2,"s":1,"f":30,"p":-9.5},
{"r":1,"c":2,"s":2,"f":2,"p":1},{"r":1,"c":2,"s":2,"f":4,"p":-0.5},{"r":1,"c":2,"s":2,"f":6,"p":-1},{"r":1,"c":2,"s":2,"f":8,"p":0},{"r":1,"c":2,"s":2,"f":10,"p":1},{"r":1,"c":2,"s":2,"f":12,"p":-1},{"r":1,"c":2,"s":2,"f":14,"p":-4},{"r":1,"c":2,"s":2,"f":16,"p":-5},{"r":1,"c":2,"s":2,"f":18,"p":-6},{"r":1,"c":2,"s":2,"f":20,"p":-7},{"r":1,"c":2,"s":2,"f":22,"p":-8},{"r":1,"c":2,"s":2,"f":24,"p":-9},{"r":1,"c":2,"s":2,"f":26,"p":-10.5},{"r":1,"c":2,"s":2,"f":28,"p":-12},{"r":1,"c":2,"s":2,"f":30,"p":-14},
{"r":1,"c":2,"s":3,"f":2,"p":4.5},{"r":1,"c":2,"s":3,"f":4,"p":1.5},{"r":1,"c":2,"s":3,"f":6,"p":0.5},{"r":1,"c":2,"s":3,"f":8,"p":1.5},{"r":1,"c":2,"s":3,"f":10,"p":3},{"r":1,"c":2,"s":3,"f":12,"p":0},{"r":1,"c":2,"s":3,"f":14,"p":-3.5},{"r":1,"c":2,"s":3,"f":16,"p":-5},{"r":1,"c":2,"s":3,"f":18,"p":-6},{"r":1,"c":2,"s":3,"f":20,"p":-7},{"r":1,"c":2,"s":3,"f":22,"p":-8.5},{"r":1,"c":2,"s":3,"f":24,"p":-10},{"r":1,"c":2,"s":3,"f":26,"p":-12},{"r":1,"c":2,"s":3,"f":28,"p":-14.5},{"r":1,"c":2,"s":3,"f":30,"p":-17.5},
{"r":1,"c":2,"s":4,"f":2,"p":5},{"r":1,"c":2,"s":4,"f":4,"p":3},{"r":1,"c":2,"s":4,"f":6,"p":2},{"r":1,"c":2,"s":4,"f":8,"p":2},{"r":1,"c":2,"s":4,"f":10,"p":3.5},{"r":1,"c":2,"s":4,"f":12,"p":1.5},{"r":1,"c":2,"s":4,"f":14,"p":-1.5},{"r":1,"c":2,"s":4,"f":16,"p":-3},{"r":1,"c":2,"s":4,"f":18,"p":-3.5},{"r":1,"c":2,"s":4,"f":20,"p":-4},{"r":1,"c":2,"s":4,"f":22,"p":-5},{"r":1,"c":2,"s":4,"f":24,"p":-6.5},{"r":1,"c":2,"s":4,"f":26,"p":-8},{"r":1,"c":2,"s":4,"f":28,"p":-10},{"r":1,"c":2,"s":4,"f":30,"p":-12},
{"r":1,"c":2,"s":5,"f":2,"p":5.5},{"r":1,"c":2,"s":5,"f":4,"p":2},{"r":1,"c":2,"s":5,"f":6,"p":0.5},{"r":1,"c":2,"s":5,"f":8,"p":1},{"r":1,"c":2,"s":5,"f":10,"p":2.5},{"r":1,"c":2,"s":5,"f":12,"p":0},{"r":1,"c":2,"s":5,"f":14,"p":-2.5},{"r":1,"c":2,"s":5,"f":16,"p":-4},{"r":1,"c":2,"s":5,"f":18,"p":-5},{"r":1,"c":2,"s":5,"f":20,"p":-5.5},{"r":1,"c":2,"s":5,"f":22,"p":-6.5},{"r":1,"c":2,"s":5,"f":24,"p":-7.5},{"r":1,"c":2,"s":5,"f":26,"p":-9},{"r":1,"c":2,"s":5,"f":28,"p":-10.5},{"r":1,"c":2,"s":5,"f":30,"p":-12.5},
{"r":1,"c":2,"s":6,"f":2,"p":4},{"r":1,"c":2,"s":6,"f":4,"p":1.5},{"r":1,"c":2,"s":6,"f":6,"p":0},{"r":1,"c":2,"s":6,"f":8,"p":0.5},{"r":1,"c":2,"s":6,"f":10,"p":2},{"r":1,"c":2,"s":6,"f":12,"p":-1},{"r":1,"c":2,"s":6,"f":14,"p":-3.5},{"r":1,"c":2,"s":6,"f":16,"p":-5},{"r":1,"c":2,"s":6,"f":18,"p":-6},{"r":1,"c":2,"s":6,"f":20,"p":-7},{"r":1,"c":2,"s":6,"f":22,"p":-8},{"r":1,"c":2,"s":6,"f":24,"p":-9},{"r":1,"c":2,"s":6,"f":26,"p":-10.5},{"r":1,"c":2,"s":6,"f":28,"p":-12.5},{"r":1,"c":2,"s":6,"f":30,"p":-15},
{"r":1,"c":2,"s":7,"f":2,"p":5},{"r":1,"c":2,"s":7,"f":4,"p":2},{"r":1,"c":2,"s":7,"f":6,"p":0.8},{"r":1,"c":2,"s":7,"f":8,"p":1.2},{"r":1,"c":2,"s":7,"f":10,"p":3.2},{"r":1,"c":2,"s":7,"f":12,"p":1},{"r":1,"c":2,"s":7,"f":14,"p":-2.5},{"r":1,"c":2,"s":7,"f":16,"p":-4},{"r":1,"c":2,"s":7,"f":18,"p":-5},{"r":1,"c":2,"s":7,"f":20,"p":-5.5},{"r":1,"c":2,"s":7,"f":22,"p":-6.5},{"r":1,"c":2,"s":7,"f":24,"p":-8.2},{"r":1,"c":2,"s":7,"f":26,"p":-9.5},{"r":1,"c":2,"s":7,"f":28,"p":-11.2},{"r":1,"c":2,"s":7,"f":30,"p":-13.5},
{"r":1,"c":2,"s":8,"f":2,"p":4.5},{"r":1,"c":2,"s":8,"f":4,"p":2.2},{"r":1,"c":2,"s":8,"f":6,"p":0.5},{"r":1,"c":2,"s":8,"f":8,"p":1},{"r":1,"c":2,"s":8,"f":10,"p":2.8},{"r":1,"c":2,"s":8,"f":12,"p":1.5},{"r":1,"c":2,"s":8,"f":14,"p":-2},{"r":1,"c":2,"s":8,"f":16,"p":-3.8},{"r":1,"c":2,"s":8,"f":18,"p":-4.8},{"r":1,"c":2,"s":8,"f":20,"p":-5.8},{"r":1,"c":2,"s":8,"f":22,"p":-7},{"r":1,"c":2,"s":8,"f":24,"p":-8.5},{"r":1,"c":2,"s":8,"f":26,"p":-9.8},{"r":1,"c":2,"s":8,"f":28,"p":-11.5},{"r":1,"c":2,"s":8,"f":30,"p":-14},
{"r":1,"c":3,"s":0,"f":2,"p":5.3},{"r":1,"c":3,"s":0,"f":3,"p":2.3},{"r":1,"c":3,"s":0,"f":4,"p":0.2},{"r":1,"c":3,"s":0,"f":5,"p":-0.8},{"r":1,"c":3,"s":0,"f":6,"p":-1.4},{"r":1,"c":3,"s":0,"f":7,"p":-1.5},{"r":1,"c":3,"s":0,"f":8,"p":-1.3},{"r":1,"c":3,"s":0,"f":9,"p":-1.1},{"r":1,"c":3,"s":0,"f":10,"p":-1.5},{"r":1,"c":3,"s":0,"f":11,"p":-2.8},{"r":1,"c":3,"s":0,"f":12,"p":-4.3},{"r":1,"c":3,"s":0,"f":13,"p":-5.5},{"r":1,"c":3,"s":0,"f":14,"p":-6.3},{"r":1,"c":3,"s":0,"f":15,"p":-6.7},{"r":1,"c":3,"s":0,"f":16,"p":-7.0},{"r":1,"c":3,"s":0,"f":17,"p":-7.3},{"r":1,"c":3,"s":0,"f":18,"p":-7.7},{"r":1,"c":3,"s":0,"f":19,"p":-8.2},{"r":1,"c":3,"s":0,"f":20,"p":-8.7},{"r":1,"c":3,"s":0,"f":21,"p":-9.2},{"r":1,"c":3,"s":0,"f":22,"p":-9.7},{"r":1,"c":3,"s":0,"f":23,"p":-10.3},{"r":1,"c":3,"s":0,"f":24,"p":-10.9},{"r":1,"c":3,"s":0,"f":25,"p":-11.5},{"r":1,"c":3,"s":0,"f":26,"p":-12.2},{"r":1,"c":3,"s":0,"f":27,"p":-13.3},{"r":1,"c":3,"s":0,"f":28,"p":-14.6},{"r":1,"c":3,"s":0,"f":29,"p":-15.4},{"r":1,"c":3,"s":0,"f":30,"p":-16.3},
{"r":1,"c":3,"s":1,"f":2,"p":6.5},{"r":1,"c":3,"s":1,"f":4,"p":2},{"r":1,"c":3,"s":1,"f":6,"p":1},{"r":1,"c":3,"s":1,"f":8,"p":1.5},{"r":1,"c":3,"s":1,"f":10,"p":1.5},{"r":1,"c":3,"s":1,"f":12,"p":-1.5},{"r":1,"c":3,"s":1,"f":14,"p":-4},{"r":1,"c":3,"s":1,"f":16,"p":-5},{"r":1,"c":3,"s":1,"f":18,"p":-5.5},{"r":1,"c":3,"s":1,"f":20,"p":-6},{"r":1,"c":3,"s":1,"f":22,"p":-6.5},{"r":1,"c":3,"s":1,"f":24,"p":-7.5},{"r":1,"c":3,"s":1,"f":26,"p":-9},{"r":1,"c":3,"s":1,"f":28,"p":-11},{"r":1,"c":3,"s":1,"f":30,"p":-13.5},
{"r":1,"c":3,"s":2,"f":2,"p":4},{"r":1,"c":3,"s":2,"f":4,"p":-2},{"r":1,"c":3,"s":2,"f":6,"p":-3},{"r":1,"c":3,"s":2,"f":8,"p":-3.5},{"r":1,"c":3,"s":2,"f":10,"p":-4},{"r":1,"c":3,"s":2,"f":12,"p":-6},{"r":1,"c":3,"s":2,"f":14,"p":-8},{"r":1,"c":3,"s":2,"f":16,"p":-9},{"r":1,"c":3,"s":2,"f":18,"p":-9.5},{"r":1,"c":3,"s":2,"f":20,"p":-10.5},{"r":1,"c":3,"s":2,"f":22,"p":-11.5},{"r":1,"c":3,"s":2,"f":24,"p":-12.5},{"r":1,"c":3,"s":2,"f":26,"p":-13.5},{"r":1,"c":3,"s":2,"f":28,"p":-15.5},{"r":1,"c":3,"s":2,"f":30,"p":-17.5},
{"r":1,"c":3,"s":3,"f":2,"p":5.5},{"r":1,"c":3,"s":3,"f":4,"p":1},{"r":1,"c":3,"s":3,"f":6,"p":0},{"r":1,"c":3,"s":3,"f":8,"p":0},{"r":1,"c":3,"s":3,"f":10,"p":-0.5},{"r":1,"c":3,"s":3,"f":12,"p":-3},{"r":1,"c":3,"s":3,"f":14,"p":-5.5},{"r":1,"c":3,"s":3,"f":16,"p":-6.5},{"r":1,"c":3,"s":3,"f":18,"p":-7},{"r":1,"c":3,"s":3,"f":20,"p":-7.5},{"r":1,"c":3,"s":3,"f":22,"p":-8.5},{"r":1,"c":3,"s":3,"f":24,"p":-9.5},{"r":1,"c":3,"s":3,"f":26,"p":-11},{"r":1,"c":3,"s":3,"f":28,"p":-13},{"r":1,"c":3,"s":3,"f":30,"p":-15.5},
{"r":1,"c":3,"s":4,"f":2,"p":6},{"r":1,"c":3,"s":4,"f":4,"p":1.5},{"r":1,"c":3,"s":4,"f":6,"p":1},{"r":1,"c":3,"s":4,"f":8,"p":1},{"r":1,"c":3,"s":4,"f":10,"p":0.5},{"r":1,"c":3,"s":4,"f":12,"p":-2.5},{"r":1,"c":3,"s":4,"f":14,"p":-5},{"r":1,"c":3,"s":4,"f":16,"p":-6},{"r":1,"c":3,"s":4,"f":18,"p":-7},{"r":1,"c":3,"s":4,"f":20,"p":-7.5},{"r":1,"c":3,"s":4,"f":22,"p":-8.5},{"r":1,"c":3,"s":4,"f":24,"p":-9.5},{"r":1,"c":3,"s":4,"f":26,"p":-10.5},{"r":1,"c":3,"s":4,"f":28,"p":-12.5},{"r":1,"c":3,"s":4,"f":30,"p":-14.5},
{"r":1,"c":3,"s":5,"f":2,"p":4.5},{"r":1,"c":3,"s":5,"f":4,"p":-1},{"r":1,"c":3,"s":5,"f":6,"p":-2},{"r":1,"c":3,"s":5,"f":8,"p":-2},{"r":1,"c":3,"s":5,"f":10,"p":-2.5},{"r":1,"c":3,"s":5,"f":12,"p":-5},{"r":1,"c":3,"s":5,"f":14,"p":-7},{"r":1,"c":3,"s":5,"f":16,"p":-8.5},{"r":1,"c":3,"s":5,"f":18,"p":-9.5},{"r":1,"c":3,"s":5,"f":20,"p":-10.5},{"r":1,"c":3,"s":5,"f":22,"p":-11.5},{"r":1,"c":3,"s":5,"f":24,"p":-12.5},{"r":1,"c":3,"s":5,"f":26,"p":-14},{"r":1,"c":3,"s":5,"f":28,"p":-16.5},{"r":1,"c":3,"s":5,"f":30,"p":-19},
{"r":1,"c":3,"s":6,"f":2,"p":5},{"r":1,"c":3,"s":6,"f":4,"p":0},{"r":1,"c":3,"s":6,"f":6,"p":-1},{"r":1,"c":3,"s":6,"f":8,"p":-1},{"r":1,"c":3,"s":6,"f":10,"p":-1.5},{"r":1,"c":3,"s":6,"f":12,"p":-4},{"r":1,"c":3,"s":6,"f":14,"p":-6.5},{"r":1,"c":3,"s":6,"f":16,"p":-7.5},{"r":1,"c":3,"s":6,"f":18,"p":-8.5},{"r":1,"c":3,"s":6,"f":20,"p":-9},{"r":1,"c":3,"s":6,"f":22,"p":-10},{"r":1,"c":3,"s":6,"f":24,"p":-11},{"r":1,"c":3,"s":6,"f":26,"p":-12.5},{"r":1,"c":3,"s":6,"f":28,"p":-14.5},{"r":1,"c":3,"s":6,"f":30,"p":-17},
{"r":1,"c":3,"s":7,"f":2,"p":5.5},{"r":1,"c":3,"s":7,"f":4,"p":0.5},{"r":1,"c":3,"s":7,"f":6,"p":-1},{"r":1,"c":3,"s":7,"f":8,"p":-1},{"r":1,"c":3,"s":7,"f":10,"p":-1},{"r":1,"c":3,"s":7,"f":12,"p":-3.5},{"r":1,"c":3,"s":7,"f":14,"p":-6},{"r":1,"c":3,"s":7,"f":16,"p":-7},{"r":1,"c":3,"s":7,"f":18,"p":-7.5},{"r":1,"c":3,"s":7,"f":20,"p":-8.5},{"r":1,"c":3,"s":7,"f":22,"p":-9.5},{"r":1,"c":3,"s":7,"f":24,"p":-10.5},{"r":1,"c":3,"s":7,"f":26,"p":-12},{"r":1,"c":3,"s":7,"f":28,"p":-14},{"r":1,"c":3,"s":7,"f":30,"p":-16},
{"r":1,"c":3,"s":8,"f":2,"p":5},{"r":1,"c":3,"s":8,"f":4,"p":0},{"r":1,"c":3,"s":8,"f":6,"p":-1.5},{"r":1,"c":3,"s":8,"f":8,"p":-1.2},{"r":1,"c":3,"s":8,"f":10,"p":-1.5},{"r":1,"c":3,"s":8,"f":12,"p":-4},{"r":1,"c":3,"s":8,"f":14,"p":-6.3},{"r":1,"c":3,"s":8,"f":16,"p":-7.2},{"r":1,"c":3,"s":8,"f":18,"p":-8},{"r":1,"c":3,"s":8,"f":20,"p":-8.8},{"r":1,"c":3,"s":8,"f":22,"p":-9.8},{"r":1,"c":3,"s":8,"f":24,"p":-11},{"r":1,"c":3,"s":8,"f":26,"p":-12.5},{"r":1,"c":3,"s":8,"f":28,"p":-14.8},{"r":1,"c":3,"s":8,"f":30,"p":-16.5}
]},
"vconcat":[
{
"transform":[{"filter":"datum.r == 0"}],
"title":{"text":"[a]","offset":-12},
"facet":{
"row":{"field":"r","type":"ordinal","title":null,"header":{"labelOrient":"right","labelAngle":-90,"labelExpr":"'Alert'","labelFontSize":10,"labelPadding":-6}},
"column":{"field":"c","type":"ordinal","title":null,"header":{"labelOrient":"top","labelExpr":"['Frontal EEG (Fz)','Central EEG (Cz)','Posterior EEG (Pz)','Ear EEG (cross-ear)'][datum.value]","labelFontSize":11.7,"labelPadding":-1}}
},
"spacing":{"column":13},
"spec":{
"width":137,"height":145,
"encoding":{
"x":{"field":"f","type":"quantitative","scale":{"domain":[2,30],"nice":false,"zero":false},"axis":{"title":null,"labels":false,"minExtent":0,"maxExtent":0,"values":[2,4,6,8,10,12,14,16,18,20,22,24,26,28,30]}},
"y":{"field":"p","type":"quantitative","scale":{"domain":[-20,10],"nice":false,"zero":false},"axis":{"title":"Normalised power (dB)","values":[-20,-19,-18,-17,-16,-15,-14,-13,-12,-11,-10,-9,-8,-7,-6,-5,-4,-3,-2,-1,0,1,2,3,4,5,6,7,8,9,10],"labelExpr":"datum.value % 5 == 0 ? '' + datum.value : ''"}}
},
"layer":[
{"transform":[{"filter":"datum.s > 0"}],
"mark":{"type":"line","interpolate":"monotone","strokeWidth":1.2,"clip":true},
"encoding":{
"detail":{"field":"s","type":"nominal"},
"color":{"field":"s","type":"nominal","scale":{"domain":[1,2,3,4,5,6,7,8],"range":["#777777","#777777","#777777","#777777","#777777","#777777","#9a9a9a","#9a9a9a"]},"legend":null},
"strokeDash":{"field":"s","type":"nominal","scale":{"domain":[1,2,3,4,5,6,7,8],"range":[[5,3],[5,3],[5,3],[5,3],[5,3],[5,3],[1,0],[1,0]]},"legend":null}
}},
{"transform":[{"filter":"datum.s == 0"}],
"mark":{"type":"line","interpolate":"monotone","strokeWidth":3.8,"clip":true},
"encoding":{"color":{"condition":{"test":"datum.c == 3","value":"#0000ff"},"value":"#000000"}}}
]
}
},
{
"transform":[{"filter":"datum.r == 1"}],
"title":{"text":"[b]","offset":-9},
"facet":{
"row":{"field":"r","type":"ordinal","title":null,"header":{"labelOrient":"right","labelAngle":-90,"labelExpr":"'Mental fatigue'","labelFontSize":10,"labelPadding":-6}},
"column":{"field":"c","type":"ordinal","title":"Frequency (Hz)","header":{"labels":false,"titleOrient":"bottom","titleFontSize":11.5,"titlePadding":-3}}
},
"spacing":{"column":13},
"spec":{
"width":137,"height":147,
"encoding":{
"x":{"field":"f","type":"quantitative","scale":{"domain":[2,30],"nice":false,"zero":false},"axis":{"title":null,"values":[2,4,6,8,10,12,14,16,18,20,22,24,26,28,30],"labelExpr":"datum.value % 10 == 0 ? '' + datum.value : ''"}},
"y":{"field":"p","type":"quantitative","scale":{"domain":[-20,10],"nice":false,"zero":false},"axis":{"title":"Normalised power (dB)","values":[-20,-19,-18,-17,-16,-15,-14,-13,-12,-11,-10,-9,-8,-7,-6,-5,-4,-3,-2,-1,0,1,2,3,4,5,6,7,8,9,10],"labelExpr":"datum.value % 5 == 0 ? '' + datum.value : ''"}}
},
"layer":[
{"transform":[{"filter":"datum.s > 0"}],
"mark":{"type":"line","interpolate":"monotone","strokeWidth":1.2,"clip":true},
"encoding":{
"detail":{"field":"s","type":"nominal"},
"color":{"field":"s","type":"nominal","scale":{"domain":[1,2,3,4,5,6,7,8],"range":["#777777","#777777","#777777","#777777","#777777","#777777","#9a9a9a","#9a9a9a"]},"legend":null},
"strokeDash":{"field":"s","type":"nominal","scale":{"domain":[1,2,3,4,5,6,7,8],"range":[[5,3],[5,3],[5,3],[5,3],[5,3],[5,3],[1,0],[1,0]]},"legend":null}
}},
{"transform":[{"filter":"datum.s == 0"}],
"mark":{"type":"line","interpolate":"monotone","strokeWidth":3.8,"clip":true},
"encoding":{"color":{"condition":{"test":"datum.c == 3","value":"#0000ff"},"value":"#000000"}}}
]
}
}
]
}
